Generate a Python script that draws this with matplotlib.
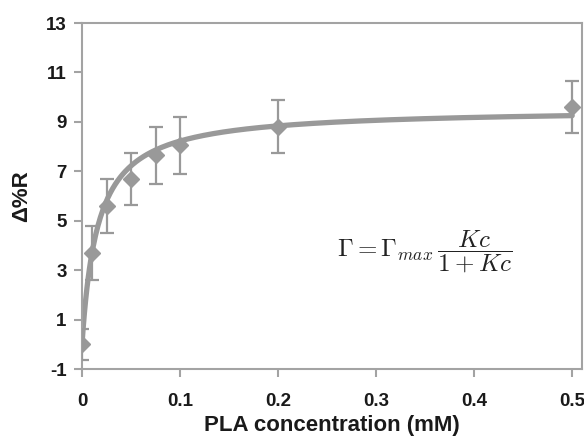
import numpy as np
import matplotlib
matplotlib.use("Agg")
import matplotlib.pyplot as plt

# Data
conc = [0.0, 0.01, 0.025, 0.05, 0.075, 0.1, 0.2, 0.5]
delta_r = [0.0, 3.7, 5.6, 6.7, 7.65, 8.05, 8.8, 9.6]
err = [0.63, 1.1, 1.08, 1.06, 1.15, 1.15, 1.07, 1.05]

# Langmuir fit parameters (estimated from the drawn curve)
gamma_max = 9.55
K = 62.0

xticks = [0, 0.1, 0.2, 0.3, 0.4, 0.5]
xticklabels = ["0", "0.1", "0.2", "0.3", "0.4", "0.5"]
yticks = [-1, 1, 3, 5, 7, 9, 11, 13]
yticklabels = ["-1", "1", "3", "5", "7", "9", "11", "13"]

plt.rcParams['font.family'] = ['Liberation Sans', 'DejaVu Sans']
plt.rcParams['mathtext.fontset'] = 'cm'

gray = '#999999'
axgray = '#a3a3a3'

fig = plt.figure(figsize=(5.84, 4.37), dpi=100)
ax = fig.add_axes([82/584, 1-369/437, 500/584, 346/437])

cfit = np.linspace(0, 0.5, 400)
fit = gamma_max * K * cfit / (1 + K * cfit)
ax.plot(cfit, fit, color=gray, lw=3.8, solid_capstyle='round', zorder=2)

ax.errorbar(conc, delta_r, yerr=err, fmt='D', color=gray, ms=8,
            ecolor=gray, elinewidth=1.6, capsize=5, capthick=1.6, zorder=3)

ax.set_xlim(0, 0.51)
ax.set_ylim(-1, 13)
ax.set_xticks(xticks)
ax.set_xticklabels(xticklabels)
ax.set_yticks(yticks)
ax.set_yticklabels(yticklabels)
for lab in ax.get_xticklabels() + ax.get_yticklabels():
    lab.set_fontweight('bold')
    lab.set_fontsize(13.5)
    lab.set_color('#1a1a1a')
ax.tick_params(direction='out', length=6, width=1.5, color=axgray)
ax.tick_params(axis='y', pad=5)
ax.tick_params(axis='x', pad=11)
for s in ax.spines.values():
    s.set_color(axgray)
    s.set_linewidth(1.5)

ax.set_xlabel('PLA concentration (mM)', fontsize=16, fontweight='bold',
              labelpad=4, color='#1a1a1a')
ax.set_ylabel('Δ%R', fontsize=16, fontweight='bold', labelpad=10, color='#1a1a1a')

ax.text(0.349, 3.74, r'$\Gamma = \Gamma_{max}\,\dfrac{Kc}{1+Kc}$', fontsize=18,
        ha='center', va='center', color='#222222')

fig.savefig('out.png', dpi=100)
